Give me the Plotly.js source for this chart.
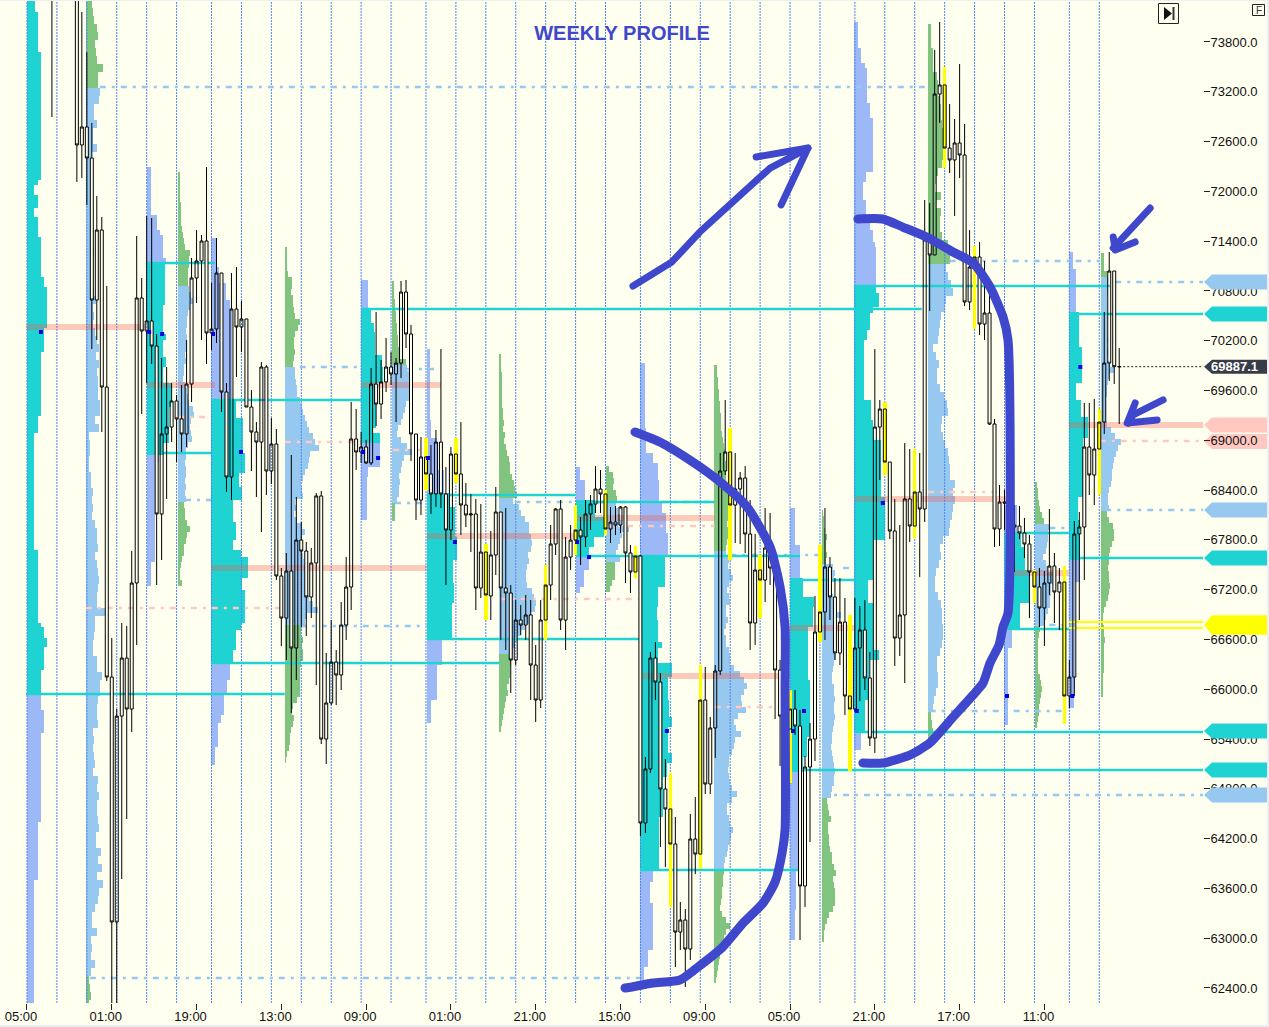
<!DOCTYPE html>
<html><head><meta charset="utf-8">
<script src="https://cdn.plot.ly/plotly-3.0.1.min.js"></script>
<style>html,body{margin:0;padding:0;background:#eeeef2;overflow:hidden}#c{position:absolute;left:0;top:1px;width:1267px;height:1024px}
.boxlayer path,.barlayer path{shape-rendering:crispEdges}
path.js-line[style*="rgb(63, 72, 204)"]{stroke-linecap:round;stroke-linejoin:round}
</style>
</head><body><div id="c"></div>
<script>
const firstBar = 5;
const opens = [75270,75600,75600,75600,75600,
74909,72559,72776,72402,70691,71534,69642,66147,63195,
65677,66376,65762,67280,70715,70317,70438,70136,68112,69076,
69160,69474,69257,69076,69678,70956,71161,71402,70293,70341,
71016,69582,68558,70582,70365,70462,69401,69100,68979,69883,
68630,68955,67365,66858,67425,66497,67798,67666,67112,67521,
68329,65400,65835,66328,66172,66774,67232,69016,68859,68919,
68727,69678,69437,69703,69883,69799,69931,70787,70281,69076,
68280,68799,68594,68353,68979,68353,67919,68835,68594,68220,
68100,68112,67220,67654,67124,67618,68136,67220,67160,66352,
66834,66774,66895,66292,65870,66834,67256,67750,68172,66834,
67593,67798,67919,67835,68112,68232,68413,68353,67931,68015,
67979,68196,67642,67413,67606,64388,65039,66376,66087,64798,
64557,64135,63074,63219,62869,64195,64014,65870,64858,65533,
66220,68630,68859,68220,68413,68546,67871,66798,67437,67316,
67702,67461,66232,65677,65521,65762,65557,63629,65063,65400,
66690,66931,67473,67112,66437,66810,65919,65762,66497,66714,
66136,65412,69160,69377,68738,67907,66617,66895,68293,67967,
68377,68172,71414,71233,73173,73282,72522,72378,72583,72438,
70667,71088,71209,70401,70534,69196,67931,68256,68244,67979,
67967,67883,67750,67413,67232,66979,67280,67485,67172,67292,
65919,66147,67871,67955,68919,68582,68895,69220,69931,71040,
69887];
const closes = [74668,75500,75500,75500,75500,
72559,72776,72402,70691,71534,69642,66147,63195,65677,
66376,65762,67280,70715,70317,70438,70136,68112,69076,69160,
69474,69257,69076,69678,70956,71161,71402,70293,70341,71016,
69582,68558,70582,70365,70462,69401,69100,68979,69883,68630,
68955,67365,66858,67425,66497,67798,67666,67112,67521,68329,
65400,65835,66328,66172,66774,67232,69016,68859,68919,68727,
69678,69437,69703,69883,69799,69931,70787,70281,69076,68280,
68799,68594,68353,68979,68353,67919,68835,68594,68220,68100,
68112,67220,67654,67136,67618,68136,67220,67160,66352,66834,
66774,66895,66292,65870,66834,67256,67750,68172,66834,67593,
67798,67919,67835,68112,68232,68413,68353,67931,68015,67979,
68196,67642,67413,67606,64388,65039,66376,66087,64798,64557,
64135,63074,63219,62869,64195,64014,65870,64858,65533,66220,
68630,68859,68220,68413,68546,67871,66798,67437,67316,67702,
67461,66232,65677,65870,65762,65557,63629,65063,65400,66690,
66931,67473,67112,66437,66810,65919,65762,66497,66714,66136,
65412,69160,69377,68738,67907,66617,66895,68293,67967,68377,
68172,71414,71233,73173,73282,72522,72378,72583,72438,70667,
71088,71209,70401,70534,69196,67931,68256,68244,68039,67955,
67883,67750,67413,67232,66979,67280,67485,67172,67292,65919,
66147,67871,67955,68919,68582,68895,69220,69931,71040,69887,
69887];
const highs = [75752,75800,75800,75800,75800,
75511,74161,73679,72824,71944,71691,70859,66617,65762,
66798,66762,67666,71462,70956,71703,71679,70281,69992,69883,
69690,69546,69666,70209,71197,71534,71474,72293,70896,71438,
71016,69690,71016,71088,70679,70462,69606,69220,69944,69907,
69269,69136,67461,67642,68823,68317,68015,67774,67702,68365,
68389,66437,66834,66473,67051,67593,69462,69377,69100,69004,
69871,70546,69968,70233,70064,69992,70920,70932,70389,69076,
69040,69028,68943,69124,70100,68678,68919,69028,69220,68485,
68353,68293,68232,67750,67907,68437,68136,68184,67256,67075,
67015,67136,67075,66533,67075,67497,67979,68184,68280,67835,
67979,68220,68076,68280,68341,68690,68642,68401,68196,68208,
68208,68208,67738,67726,67618,65183,66449,66569,66196,65159,
64991,64460,63436,63352,64497,64701,66292,66268,65665,66292,
68847,69486,69148,68847,68618,68690,68280,67871,67618,68184,
68124,67557,66352,66352,65991,65991,65750,65195,65593,67124,
67738,68184,67593,67340,67340,67100,66895,67100,67003,67075,
66449,70100,69486,69462,68738,68293,67979,68967,68895,68895,
68847,71896,71860,73703,74041,73499,73053,72872,73535,72812,
71534,71341,71390,71161,70751,69257,68461,68401,68522,68220,
68208,68064,67859,67437,67461,67425,68172,67642,67461,67485,
66352,68027,68136,69450,69450,69498,69377,70546,71269,71040,
70112];
const lows = [72896,75400,75400,75400,75400,
72113,72161,71836,70100,70209,69100,66099,62134,62134,
63713,64436,65485,66533,69317,69690,69919,67256,67557,68293,
68979,68738,68859,68919,69462,70655,70209,69919,70088,70173,
69341,68377,68280,69763,70064,69401,68630,68317,67895,68341,
68473,67316,66521,66352,65714,66111,66750,66642,66858,66051,
65340,65099,65810,65810,65991,66593,66955,68642,68727,68714,
68702,69172,69257,69582,69666,69220,69751,70112,68751,68039,
68100,68401,68112,68196,68184,67256,67798,68485,67859,67955,
67654,66955,67100,66834,66834,67377,66593,66473,65955,66292,
66654,66593,65870,65605,65774,66593,67075,67618,66714,66473,
67437,67618,67497,67714,67919,68124,68124,67859,67762,67859,
67883,67280,67160,67340,64231,64268,64991,65870,64099,63858,
63376,62653,62857,62412,62737,63773,63834,64737,64737,65172,
66172,68582,67557,67762,67750,67642,66473,66533,66858,67051,
67256,65641,65075,65027,64870,65449,62978,63376,64159,65135,
66569,66593,66834,66352,66292,65690,65015,65726,65858,65991,
65316,65232,68522,68582,67810,66280,66401,66075,67774,67823,
67353,68015,70558,71233,72824,72281,72221,71703,72161,70618,
70570,70341,70269,70209,69184,67714,67726,67919,67738,67413,
67810,67582,66858,67039,66750,66521,67136,66798,66714,65581,
65774,65919,66834,67316,68341,68220,68341,69076,69715,69678,
69196];
const yellowBars = [80,86,92,104,110,116,122,129,135,141,147,153,159,165,172,178,184,190,202,208,215];
const sessionBars = [0,6,12,18,24,30,37,43,49,55,61,67,73,80,86,92,98,104,110,116,123,129,135,141,147,153,159,166,172,178,184,190,196,202,209,215];
const timeBars = [0,17,34,51,68,85,102,119,136,153,170,187,204];
const timeLabels = ['05:00','01:00','19:00','13:00','09:00','01:00','21:00','15:00','09:00','05:00','21:00','17:00','11:00'];
const priceTicks = [62400,63000,63600,64200,64800,65400,66000,66600,67200,67800,68400,69000,69600,70200,70800,71400,72000,72600,73200,73800];

// stepped profiles (turquoise value area, periwinkle tails)
const stepStarts = [0,24.06,36.9,67,80.2,110.1,122.9,153,165.8,195.9,208.9];
const stepHighVA = [74427,71149,69498,70594,68365,68280,67618,67340,70871,67883,70546];
const stepLowVA  = [65943,68823,66316,68967,66593,67593,63822,65003,65485,66714,67557];
const edges0 = [74427,74161,73679,72137,72077,71956,71799,71691,71450,70968,70847,70353,70064,69293,69088,67678,66798,66750,66617,66509,66232,65943,65750,65473,64400,63701,62134];
const vols0 = [8,10.7,13.7,11,7.5,10.7,7.5,10.7,13.7,16.7,19.7,16.7,13.7,10.7,7.5,10.7,13.7,16.7,19.7,16.7,13.7,13.7,16.7,13.7,10.7,7.5];
const edges1 = [72293,71715,71534,71474,71197,71149,70630,70281,70209,70004,69883,69690,69401,68967,68823,68727,67533,67244];
const vols1 = [4.3,10,12.7,16,19,18,16,19,16,19,16,24,22,16,12,7.7,4.3];
const edges2 = [71438,71088,70896,70691,70570,69498,69269,68883,68847,68606,68437,68280,68015,67798,67678,67593,67340,67196,66798,66714,66473,66316,66111,65955,65690,65593,65304,65087];
const vols2 = [4.7,8,15,18.7,21,25,32,32,34,28,31,22,25,22,30,37,31,34,30,25,22,18.7,16,13,10,7,4];
const edges3 = [70932,70594,70413,70305,70028,69883,69690,69148,69088,68967,68678,68558,68039];
const vols3 = [7,10,12.7,14,21,22,15,11,19,19,7,6];
const edges4 = [70100,69245,69028,68642,68365,68196,67835,67557,67280,67039,66593,66292,65870,65593];
const vols4 = [3.3,4.3,10,17,23,28,30,26,27,25,15,10,4];
const edges5 = [68678,68521,68280,68076,67835,67714,67593,67437,67232,67160];
const vols5 = [4.3,9,19,28,18,13,13,8,4];
const edges6 = [69931,69148,68847,68727,68521,68244,68124,67883,67618,67401,67232,66991,66834,66569,66497,66316,66147,65870,65665,65545,65232,65111,64942,64460,63822,63677,63424,62858,62652,62496];
const vols6 = [4.7,6,13,18,19,22,26,28,25,25,18,17,18,22,18,32,28,29,32,28,32,27,23,19,13,10,13,8,4];
const edges7 = [68184,67738,67340,67112,66991,66750,66111,65424,65183,65003,64822,63822,63340,62978];
const vols7 = [4.7,10,13,24,23,18,20,17,13,11,8,6,4.7];
const edges8 = [74041,73728,73547,73487,73065,72884,72233,72113,71896,71715,71534,71390,71329,70871,70775,70606,70534,70329,70209,69486,69245,69004,68316,67798,67316,67039,66473,66353,65870,65485,65268];
const vols8 = [4,7,11,13,16,19,12,9,12,16,19,21,22,22,25,19,16,13,10,17,19,27,31,19,14,19,25,15,11,7];
const edges9 = [68220,67883,67714,67437,67039,66714,66497,65569];
const vols9 = [13,17,21,26,16,8,4];
const edges10 = [71269,71064,70546,70124,69690,69486,69281,69028,68316,68039,67557,67293,66027,65774];
const vols10 = [4,7,10,13,7,12,19,14,9,11,11,6,5];
const stepEdges = [edges0,edges1,edges2,edges3,edges4,edges5,edges6,edges7,edges8,edges9,edges10];
const stepVols = [vols0,vols1,vols2,vols3,vols4,vols5,vols6,vols7,vols8,vols9,vols10];

// jagged profiles (sky-blue value area, green tails), equal rows
const rowStarts = [11.83,30.3,51.7,73.2,94.6,116.1,137.8,159.4,180.7,202.1,215.4];
const rowTops = [74306,72233,71329,70920,70040,68690,69907,68160,74017,68497,71257];
const rowSteps = [96.4,72.3,72.3,72.3,72.3,72.3,72.3,72.3,96.4,72.3,72.3];
const rowHighVA = [73270,70835,69895,69931,68280,68256,67630,67533,71173,67955,70968];
const rowLowVA = [62520,68256,66738,68244,66413,67521,63822,64714,65726,66774,68136];
const rows0 = [6,7,8,11,12,9,10,11,17,12,12,14,13,8,8,11,7,7,11,6,5,6,5,6,6,5,4,6,5,6,7,8,5,6,5,7,8,10,7,8,7,9,11,13,10,13,11,12,12,12,14,14,9,13,3,4,4,3,3,5,5,7,6,7,6,9,11,11,12,9,11,12,13,12,11,11,21,9,9,8,7,7,11,11,16,14,14,12,11,11,12,7,8,7,8,9,7,12,11,13,11,11,12,13,10,10,15,12,16,11,17,13,12,9,6,6,11,5,6,5,9,5,3,4,5,3];
const rows1 = [2,2,2,2,2,3,3,3,3,4,5,6,7,12,11,11,10,10,10,11,13,15,12,10,9,9,8,9,8,8,7,8,6,6,5,7,9,10,11,15,16,13,12,13,14,10,8,8,7,8,8,7,8,7,8,6,7,7,9,12,9,8,6,6,4,3,2,2,4];
const rows2 = [2,2,2,2,3,7,7,6,8,8,9,10,15,13,10,9,9,10,9,8,10,10,11,12,12,15,17,18,20,22,24,28,30,34,25,24,23,20,18,16,17,18,10,11,9,12,17,20,17,15,16,18,19,20,20,22,21,22,24,28,33,22,20,17,16,18,17,18,18,16,15,15,15,15,15,12,8,7,9,8,6,5,5,4,2,1];
const rows3 = [2,2,2,3,3,4,4,5,5,6,6,7,8,14,15,17,17,18,18,17,14,13,11,9,6,5,9,15,20,12,10,9,7,8,7,7,5,3,3,3];
const rows4 = [2,2,2,3,3,3,3,3,3,4,4,5,4,6,5,7,8,10,11,11,13,15,16,18,14,20,22,26,30,30,32,33,32,29,30,28,27,27,28,33,35,37,36,32,30,26,22,18,16,14,13,12,11,11,10,8,9,7,6,5,4,3,2];
const rows5 = [3,7,8,7,10,11,10,12,14,16,23,16,14,12,10,14,9,9,9,6,4];
const rows6 = [3,3,4,4,5,5,6,6,7,7,7,8,9,10,11,11,12,12,12,12,13,14,16,15,15,14,13,14,14,13,12,12,15,14,17,19,15,13,15,16,12,12,14,12,10,12,12,15,16,16,20,26,30,33,30,27,28,32,24,20,22,27,21,20,18,15,15,14,15,16,18,23,18,13,13,15,16,19,17,16,14,13,11,10,10,9,9,8,8,7,6,8,12,16,12,10,8,7,6,5,4,3,2];
const rows7 = [1,2,2,3,5,4,4,5,4,11,13,12,10,10,11,12,15,19,14,12,12,13,12,13,14,12,11,10,10,12,12,13,12,12,13,12,11,10,10,9,10,11,12,13,12,12,10,9,5,6,7,9,6,6,7,7,8,10,10,12,14,11,12,13,13,13,11,7,5,3,2,2];
const rows8 = [3,3,3,5,5,5,9,10,10,12,13,13,14,15,15,15,17,14,10,8,7,13,8,13,12,12,14,20,25,22,18,20,23,25,18,17,13,12,11,10,5,8,11,9,9,12,16,19,20,14,13,15,17,20,21,22,22,27,25,27,25,24,22,21,15,12,13,11,8,7,7,10,13,14,14,15,15,14,12,9,9,10,10,8,6,5,3,4,5,3];
const rows9 = [2,3,3,4,5,7,9,15,13,13,12,11,8,11,13,18,18,16,16,15,15,13,11,9,5,4,3,3,3,3,3,3,5,6,7,6,5,4,4,3,2];
const rows10 = [3,3,3,6,7,7,7,6,6,6,6,6,6,6,7,6,7,6,9,13,8,7,6,6,5,5,5,5,6,10,14,20,17,15,13,12,11,11,10,8,7,7,8,6,8,12,13,13,11,9,8,8,7,8,8,9,8,7,5,3,2,2,3,3,4,3,3,3,3,3,2,2,2,2];
const rowVols = [rows0,rows1,rows2,rows3,rows4,rows5,rows6,rows7,rows8,rows9,rows10];

// level lines: price, first bar, last bar
const vaPrice = [65943,71137,69486,68847,66316,70582,68341,68256,67606,66605,63822,67316,65027,70859,65485,70522,67581,67883,66726];
const vaFrom = [-0.2,23.9,36.9,24.1,36.9,67,80.2,110.1,110.1,80.2,122.9,153,153,166,166,208.9,208.9,197.5,197.1];
const vaTo = [51.7,37.7,67,36.9,94.8,179.4,110.1,137.9,155,122.9,155,166,235.8,217.1,235.8,235.8,235.8,208.9,208.9];
const nakedPrice = [73258,69883,69859,68280,66762,62520,68256,68244,67618,64726,65738,70908,68160,71161,67943,66774,67461];
const nakedFrom = [14.6,54.7,76.2,31.7,54.7,12.6,97.8,73.8,141,159.4,181,218.2,216.2,185,205,205,163.6];
const nakedTo = [180.7,67,82.4,36.9,80.2,122.9,137.9,80.2,159.4,235.8,208,235.8,235.8,215.2,208.9,208.9,166];
const pocPrice = [70365,69666,67461,69666,67847,68064,66159,66738,68293,67401,69184];
const pocFrom = [-0.2,24.1,36.9,67,80.2,110.1,122.9,153,166,197.5,208.9];
const pocTo = [24.1,37.7,80.2,83,110.1,137.9,153,166,197,208.9,235.8];
const vwapPrice = [66979,69281,68979,68883,67087,67967,65786,68377,68991];
const vwapFrom = [11.8,30.3,51.7,73.4,94.8,116.1,137.9,180.7,215.1];
const vwapTo = [51.7,36.9,67,80.2,122.9,137.9,153,195.9,235.8];
const yellowLevels = [66810,66738];
const lastPrice = 69887;
const markerBars = [2.8,24.5,27.1,37.3,42.9,67.4,70.4,80.4,85.8,110.3,112.7,155.8,153.6,166.4,128.3,171.6,196.5,211.2,209.6];
const markerPrices = [70305,70305,70281,70281,68859,68859,68787,68787,67774,67774,67593,65738,65497,65738,65497,68244,65919,69883,65919];

// hand-drawn strokes
const curve1Bars = [121.9,126.9,133.5,139,144.4,149,151,152,152,152,151.4,150,147.6,143.6,139.5,134.3,130.9,125.5,121.3,119.9];
const curve1Prices = [69100,68979,68738,68497,68196,67714,67232,66750,65991,64304,64027,63677,63424,63183,62894,62641,62496,62460,62412,62400];
const curve2Bars = [166.6,171.6,175.6,180.4,185.7,189.7,193.1,195.7,196.7,196.7,195.7,194.9,193.1,191.7,189.7,185.7,181,177,171.6,167.6];
const curve2Prices = [71667,71667,71570,71450,71269,71137,70847,70486,70209,66919,66750,66533,66316,66075,65931,65665,65352,65207,65111,65111];
const arrowBars = [121.5,124.9,129.3,134.9,142,149,156.6,null,146.2,156.6,151.2,null,225.2,217.8,null,217.8,218.2,222.2,null,227.8,221.8,220.8,null,222.2,220.6,226.6];
const arrowPrices = [70859,70980,71149,71510,71896,72281,72522,null,72414,72522,71836,null,71799,71317,null,71450,71293,71390,null,69486,69305,69208,null,69450,69208,69245];

const IVORY='#FFFFF0', TURQ='#20D3D3', PERI='#9DB8F7', SKY='#96C8F0', GREEN='#80C480', INK='#3F48CC', POC='rgba(245,90,70,0.32)';
const volScale = 0.2005;

const bY=[],bX=[],bBase=[],bW=[],bC=[];
stepStarts.forEach((s,i)=>{
  stepVols[i].forEach((v,k)=>{
    const hi=stepEdges[i][k], lo=stepEdges[i][k+1], mid=(hi+lo)/2;
    bY.push(mid); bX.push(v*volScale); bBase.push(s); bW.push(hi-lo+3);
    bC.push(mid<=stepHighVA[i]&&mid>=stepLowVA[i]?TURQ:PERI);
  });
});
rowStarts.forEach((s,i)=>{
  rowVols[i].forEach((v,k)=>{
    const mid=rowTops[i]-(k+0.5)*rowSteps[i];
    bY.push(mid); bX.push(v*volScale); bBase.push(s); bW.push(rowSteps[i]+3);
    bC.push(mid<=rowHighVA[i]&&mid>=rowLowVA[i]?SKY:GREEN);
  });
});
function segs(p,a,b){const x=[],y=[];p.forEach((v,i)=>{x.push(a[i],b[i],null);y.push(v,v,null);});return {x,y};}

const bars=opens.map((_,i)=>i+firstBar);
const isY=i=>yellowBars.includes(bars[i]);
const idxN=bars.map((_,i)=>i).filter(i=>!isY(i));
const idxY=bars.map((_,i)=>i).filter(i=>isY(i));
const pick=(a,idx)=>idx.map(i=>a[i]);

const sx=[],sy=[];sessionBars.forEach(b=>{sx.push(b,b,null);sy.push(62219,74294,null);});
const vaS=segs(vaPrice,vaFrom,vaTo), nkS=segs(nakedPrice,nakedFrom,nakedTo), pcS=segs(pocPrice,pocFrom,pocTo), vwS=segs(vwapPrice,vwapFrom,vwapTo);
const ylS=segs(yellowLevels,[208.9,208.9],[235.8,235.8]);

const traces=[
 {type:'bar',orientation:'h',y:bY,x:bX,base:bBase,width:bW,marker:{color:bC,line:{width:0}},hoverinfo:'skip',zorder:0},
 {type:'scatter',mode:'lines',x:sx,y:sy,line:{color:'#4A86F0',width:1,dash:'2px,1px'},hoverinfo:'skip',zorder:1},
 {type:'scatter',mode:'lines',x:pcS.x,y:pcS.y,line:{color:POC,width:6},hoverinfo:'skip',zorder:1},
 {type:'scatter',mode:'lines',x:vwS.x,y:vwS.y,line:{color:'#FFC8C0',width:2.5,dash:'6px,6px,3px,6px'},hoverinfo:'skip',zorder:1},
 {type:'scatter',mode:'lines',x:nkS.x,y:nkS.y,line:{color:SKY,width:2.5,dash:'6px,6px,3px,6px'},hoverinfo:'skip',zorder:1},
 {type:'scatter',mode:'lines',x:vaS.x,y:vaS.y,line:{color:TURQ,width:2.5},hoverinfo:'skip',zorder:1},
 {type:'scatter',mode:'lines',x:ylS.x,y:ylS.y,line:{color:'#FFFF00',width:2},hoverinfo:'skip',zorder:1},
 {type:'scatter',mode:'lines',x:[219,235.8],y:[lastPrice,lastPrice],line:{color:'#222',width:1,dash:'2px,2px'},hoverinfo:'skip',zorder:1},
 {type:'bar',x:pick(bars,idxY),y:idxY.map(i=>highs[i]-lows[i]),base:pick(lows,idxY),width:0.7,marker:{color:'#FFFF00',line:{width:0}},hoverinfo:'skip',zorder:2},
 {type:'candlestick',x:pick(bars,idxN),open:pick(opens,idxN),close:pick(closes,idxN),high:pick(highs,idxN),low:pick(lows,idxN),
  whiskerwidth:0,increasing:{line:{color:'#000',width:1},fillcolor:'rgba(0,0,0,0)'},decreasing:{line:{color:'#000',width:1},fillcolor:IVORY},hoverinfo:'skip',zorder:3},
 {type:'candlestick',x:pick(bars,idxY),open:pick(opens,idxY),close:pick(closes,idxY),
  high:idxY.map(i=>Math.max(opens[i],closes[i])),low:idxY.map(i=>Math.min(opens[i],closes[i])),
  whiskerwidth:0,increasing:{line:{color:'#000',width:1},fillcolor:'#FFFF00'},decreasing:{line:{color:'#000',width:1},fillcolor:'#FFFF00'},hoverinfo:'skip',zorder:3},
 {type:'scatter',mode:'markers',x:markerBars,y:markerPrices,marker:{symbol:'square',size:4,color:'#0000E0'},hoverinfo:'skip',zorder:4},
 {type:'scatter',mode:'lines',x:curve1Bars,y:curve1Prices,line:{color:INK,width:9,shape:'spline',smoothing:0.6},hoverinfo:'skip',zorder:5},
 {type:'scatter',mode:'lines',x:curve2Bars,y:curve2Prices,line:{color:INK,width:9,shape:'spline',smoothing:0.6},hoverinfo:'skip',zorder:5},
 {type:'scatter',mode:'lines',x:arrowBars,y:arrowPrices,line:{color:INK,width:7},hoverinfo:'skip',zorder:5},
 {type:'scatter',xaxis:'x2',x:[0],y:[70000],mode:'none',hoverinfo:'skip',zorder:0}
];

// right-hand price tags
const W=1203,H=1002;
const fx=px=>px/W, fy=py=>(1003-py)/H;
function tag(p,h,color,layer){
  const a=fx(1204),b=fx(1212),c=fx(1267);
  return {type:'path',xref:'paper',yref:'y',layer:layer||'above',fillcolor:color,line:{width:0},
    path:`M ${a} ${p} L ${b} ${p+h} L ${c} ${p+h} L ${c} ${p-h} L ${b} ${p-h} Z`};
}
const tagPrices=[70908,70522,69184,68985,68160,67581,66774,65497,65027,64726];
const tagColors=[SKY,TURQ,'#FFC8C0','#FFC8C0',SKY,TURQ,'#FFFF00',TURQ,TURQ,SKY];
const tagHalf=[90,90,90,90,90,90,118,90,90,90];
const shapes=tagPrices.map((p,i)=>tag(p,tagHalf[i],tagColors[i],i===3?'below':'above'));
shapes.push(tag(lastPrice,85,'#373C48','above'));
function box(x0,y0,x1,y1,extra){return Object.assign({type:'rect',xref:'paper',yref:'paper',x0:fx(x0),x1:fx(x1),y0:fy(y1),y1:fy(y0),layer:'above',line:{color:'#222',width:1},fillcolor:'rgba(0,0,0,0)'},extra||{});}
shapes.push(box(1158.5,3.5,1178.5,23.5));
shapes.push({type:'path',xref:'paper',yref:'paper',layer:'above',fillcolor:'#111',line:{width:0},path:`M ${fx(1164)} ${fy(7)} L ${fx(1172)} ${fy(13.5)} L ${fx(1164)} ${fy(20)} Z`});
shapes.push(box(1172.5,7,1174.5,20,{fillcolor:'#333',line:{width:0}}));
shapes.push(box(1252.5,4.5,1264.5,15.5));

const layout={
  width:1267,height:1024,margin:{l:0,r:64,t:0,b:22,pad:0},paper_bgcolor:IVORY,plot_bgcolor:IVORY,showlegend:false,barmode:'overlay',bargap:0,boxgap:0.4,boxgroupgap:0,
  title:{text:'WEEKLY PROFILE',x:622/1267,xanchor:'center',y:1-32/1024,yanchor:'middle',font:{family:'Liberation Sans, Arial, sans-serif',size:20,color:INK,weight:700}},
  font:{family:'Liberation Sans, Arial, sans-serif',size:13,color:'#111'},
  xaxis:{type:'linear',range:[-5.41,235.8],rangeslider:{visible:false},tickmode:'array',tickvals:timeBars.map(b=>b-1.2),ticktext:timeLabels,ticks:'outside',ticklen:1,tickcolor:'rgba(0,0,0,0)',showgrid:false,zeroline:false,showline:true,linecolor:'#444',linewidth:1,tickfont:{size:13,color:'#111'},fixedrange:true},
  xaxis2:{overlaying:'x',anchor:'y',side:'bottom',type:'linear',range:[-5.41,235.8],tickmode:'array',tickvals:timeBars,ticktext:timeLabels.map(()=>''),ticks:'outside',ticklen:6,tickcolor:'#222',showgrid:false,zeroline:false,showticklabels:false,fixedrange:true},
  yaxis:{side:'right',range:[62219,74294],tickmode:'array',tickvals:priceTicks,ticktext:priceTicks.map(v=>v.toFixed(1)),ticks:'outside',ticklen:6,tickcolor:'#222',ticklabelstandoff:-2,showgrid:false,zeroline:false,showline:true,linecolor:'#444',linewidth:1,tickfont:{size:13,color:'#111'},fixedrange:true},
  shapes,
  annotations:[
    {xref:'paper',yref:'y',x:fx(1209),y:lastPrice,text:'69887.1',xanchor:'left',yanchor:'middle',showarrow:false,font:{size:13,color:'#fff',weight:700}},
    {xref:'paper',yref:'paper',x:fx(1258.5),y:fy(10),text:'F',xanchor:'center',yanchor:'middle',showarrow:false,font:{size:10,color:'#333'}}
  ]
};
Plotly.newPlot('c',traces,layout,{displayModeBar:false,staticPlot:true});
</script></body></html>
